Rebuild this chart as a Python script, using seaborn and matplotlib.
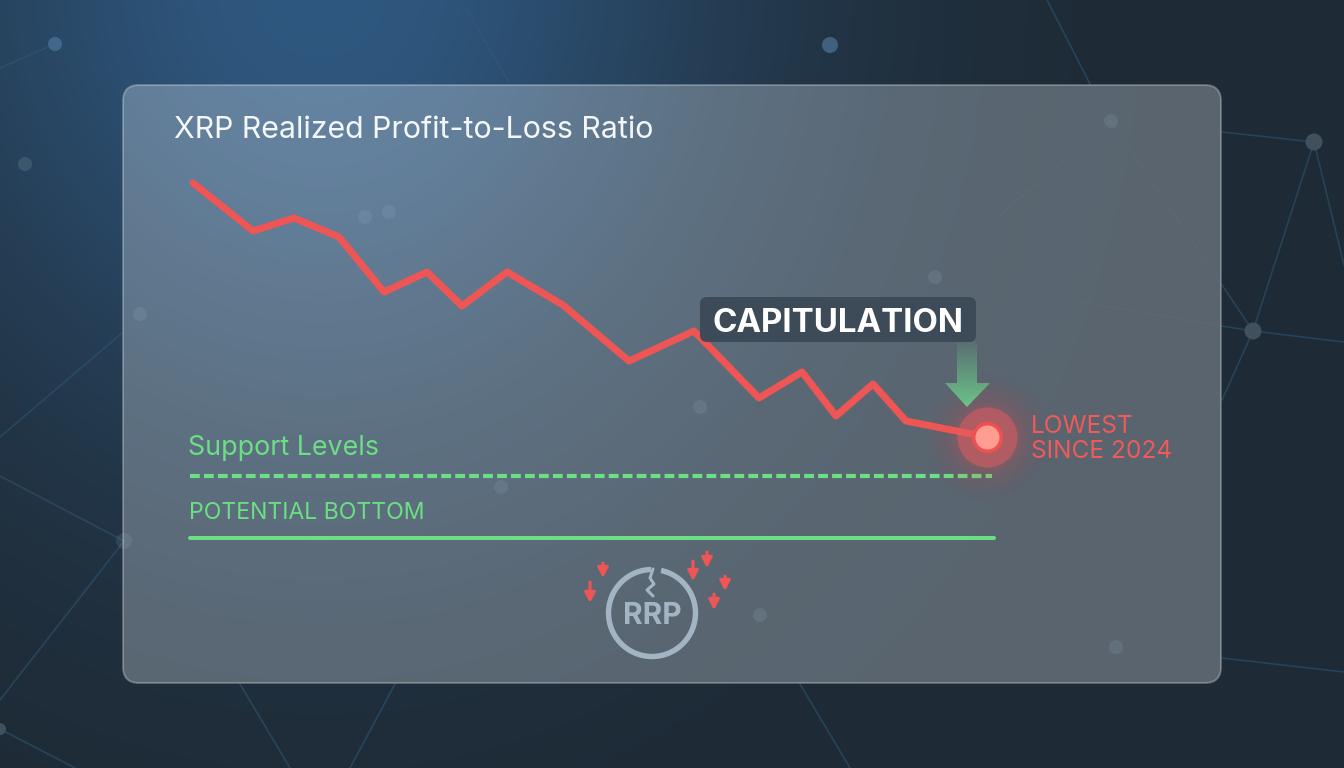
import numpy as np
import pandas as pd
import seaborn as sns
import matplotlib
matplotlib.use("Agg")
import matplotlib.pyplot as plt
from matplotlib.patches import FancyBboxPatch, Circle, Arc, Polygon

# Ratio series (days along the window, ratio in arbitrary chart units)
days = [3, 63, 104, 149, 194, 237, 272, 317, 373, 439, 504, 569, 612, 646, 683, 716, 797]
ratio = [3.57, 3.09, 3.22, 3.03, 2.48, 2.68, 2.34, 2.68, 2.35, 1.79, 2.09, 1.42, 1.68, 1.24, 1.56, 1.19, 1.03]
support_level = [0.64, 0.64]
support_span = [0, 802]
bottom_level = [0.02, 0.02]
bottom_span = [0, 804]

title_text = "XRP Realized Profit-to-Loss Ratio"
support_text = "Support Levels"
bottom_text = "POTENTIAL BOTTOM"
callout_text = "CAPITULATION"
low_text = "LOWEST\nSINCE 2024"
logo_text = "RRP"

RED = "#ee5555"
GREEN = "#6cdf84"
W, H = 1344, 768

sns.set_theme(style="white")
plt.rcParams["font.family"] = ["Inter", "DejaVu Sans"]

fig = plt.figure(figsize=(W / 100, H / 100), dpi=100)

# Backdrop layer works in pixel units across the whole canvas
bg = fig.add_axes([0, 0, 1, 1], zorder=0)
bg.set_xlim(0, W)
bg.set_ylim(H, 0)
bg.axis("off")

yy, xx = np.mgrid[0:H, 0:W]
base = np.array([30, 42, 53], float)
glow = np.exp(-(((xx - 320) / 420.0) ** 2 + ((yy + 20) / 470.0) ** 2))[..., None]
img = base + glow * (np.array([47, 88, 128], float) - base)
bg.imshow(img.astype(np.uint8), extent=(0, W, H, 0), aspect="auto", zorder=0)

# Faint network behind the panel
outer_edges = [((1222, 132), (1314, 142)), ((1314, 142), (1253, 331)), ((1314, 142), (1344, 265)),
               ((1222, 285), (1253, 331)), ((1222, 326), (1253, 331)), ((1253, 331), (1344, 342)),
               ((1253, 331), (1222, 400)), ((1047, 0), (1090, 84)), ((461, 0), (510, 84)),
               ((0, 437), (122, 333)), ((0, 476), (124, 541)), ((124, 541), (0, 700)),
               ((0, 729), (75, 768)), ((55, 44), (0, 68)), ((240, 684), (290, 768)),
               ((395, 684), (350, 768)), ((800, 684), (850, 768)), ((1222, 658), (1344, 672))]
for (x0, y0), (x1, y1) in outer_edges:
    bg.plot([x0, x1], [y0, y1], color="#2f5c7c", alpha=0.5, lw=1.2, zorder=1)
for x, y, r, shade in [(1314, 142, 8.5, "#40505c"), (1253, 331, 8.5, "#40505c"), (830, 45, 8, "#40607c"),
                       (25, 164, 7, "#3c566c"), (55, 44, 7, "#41688a"), (0, 729, 6, "#40505c")]:
    bg.add_patch(Circle((x, y), r, color=shade, lw=0, zorder=1))

# Frosted panel
bg.add_patch(FancyBboxPatch((135, 97), 1074, 574, boxstyle="round,pad=12,rounding_size=16",
                            fc=(0.93, 0.97, 1, 0.285), ec=(1, 1, 1, 0.27), lw=1.4, zorder=2))

# Network traces showing through the frosted panel
inner_edges = [((1111, 121), (1222, 285)), ((1111, 121), (1000, 215)), ((1222, 326), (1070, 300)),
               ((140, 314), (300, 205)), ((389, 212), (560, 320))]
for (x0, y0), (x1, y1) in inner_edges:
    bg.plot([x0, x1], [y0, y1], color="#6f93ac", alpha=0.08, lw=1.2, zorder=3)
inner_nodes = [(124, 541, 8), (140, 314, 7), (1111, 121, 7), (935, 277, 7), (700, 407, 7),
               (501, 487, 7), (760, 615, 7), (1116, 647, 7), (365, 217, 7), (389, 212, 7)]
for x, y, r in inner_nodes:
    bg.add_patch(Circle((x, y), r, color="#9ebcd2", alpha=0.14, lw=0, zorder=3))

# Chart layer: one axes over the plotting area, scaled in days and ratio
chart = fig.add_axes([190 / W, 1 - 540 / H, 810 / W, 370 / H], zorder=2)
chart.set_xlim(0, 810)
chart.set_ylim(0, 3.7)
chart.axis("off")
chart.patch.set_alpha(0)

frame = pd.DataFrame({"day": days, "ratio": ratio})
sns.lineplot(data=frame, x="day", y="ratio", ax=chart, color=RED, linewidth=5.1,
             solid_joinstyle="round", solid_capstyle="round", clip_on=False, zorder=4)
sns.lineplot(x=support_span, y=support_level, ax=chart, color=GREEN, linewidth=3.0,
             linestyle=(0, (2.35, 1.0)), clip_on=False, zorder=3)
sns.lineplot(x=bottom_span, y=bottom_level, ax=chart, color=GREEN, linewidth=2.9,
             clip_on=False, zorder=3)

# Highlighted last point with its glow
last_x, last_y = days[-1], ratio[-1]
for size, alpha in [(64, .012), (60, .016), (56, .02), (52, .024), (48, .03), (44, .035), (40, .04), (36, .05), (33, .06)]:
    chart.scatter([last_x], [last_y], s=(size * 1.44) ** 2, color=RED, alpha=alpha, lw=0, zorder=5, clip_on=False)
chart.scatter([last_x], [last_y], s=(30 * 1.44) ** 2, color="#e85d60", alpha=0.5, lw=0, zorder=5, clip_on=False)
chart.scatter([last_x], [last_y], s=(15.5 * 1.44) ** 2, color="#f05050", lw=0, zorder=6, clip_on=False)
chart.scatter([last_x], [last_y], s=(12 * 1.44) ** 2, color="#ff9d92", lw=0, zorder=7, clip_on=False)

# Annotation layer in pixel units
top = fig.add_axes([0, 0, 1, 1], zorder=3)
top.set_xlim(0, W)
top.set_ylim(H, 0)
top.axis("off")
top.patch.set_alpha(0)

top.text(174, 129.5, title_text, color="#f4f7f9", fontsize=21.85, va="center", ha="left")
top.text(188, 448, support_text, color=GREEN, fontsize=19.3, va="center", ha="left")
top.text(189, 513, bottom_text, color=GREEN, fontsize=16.6, va="center", ha="left")
top.text(1031, 439, low_text, color="#f05a5a", fontsize=17.6, va="center", ha="left", linespacing=1.1)

top.add_patch(FancyBboxPatch((706, 303), 264, 33, boxstyle="round,pad=6,rounding_size=7",
                             fc="#3c4a58", ec="none", alpha=0.96, zorder=2))
top.text(838.5, 323, callout_text, color="white", fontsize=23.8, fontweight="bold",
         va="center", ha="center", zorder=3)

# Downward arrow fading into the callout
shape = Polygon([(957, 342), (977, 342), (977, 383), (990, 383), (967, 407), (945, 383), (957, 383)],
                closed=True, fc="none", ec="none")
top.add_patch(shape)
fade = np.zeros((65, 2, 4))
fade[..., :3] = matplotlib.colors.to_rgb("#6cc98a")
fade[..., 3] = np.linspace(0.1, 0.95, 65)[:, None]
im = top.imshow(fade, extent=(945, 990, 407, 342), aspect="auto", zorder=2)
im.set_clip_path(shape)
top.set_xlim(0, W)
top.set_ylim(H, 0)

# Cracked coin badge
LOGO = "#a3b4c2"
top.add_patch(Arc((652, 613), 87, 87, theta1=-78, theta2=-90 + 360 - 1, color=LOGO, lw=3.9, zorder=2))
top.plot([653, 650, 654, 647, 653], [569, 578, 584, 590, 596], color=LOGO, lw=2.2, zorder=2)
top.text(652, 616.5, logo_text, color=LOGO, fontsize=21.5, fontweight="bold", va="center", ha="center", zorder=2)
for x, y0, y1 in [(603, 563, 577), (590, 582, 602), (693, 561, 580), (707, 552, 567), (725, 576, 590), (714, 594, 609)]:
    top.annotate("", xy=(x, y1 + 1), xytext=(x, y0),
                 arrowprops=dict(arrowstyle="-|>,head_width=0.26,head_length=0.5", color=RED, lw=2.2,
                                 shrinkA=0, shrinkB=0), zorder=3)

fig.savefig("out.png", dpi=100)
